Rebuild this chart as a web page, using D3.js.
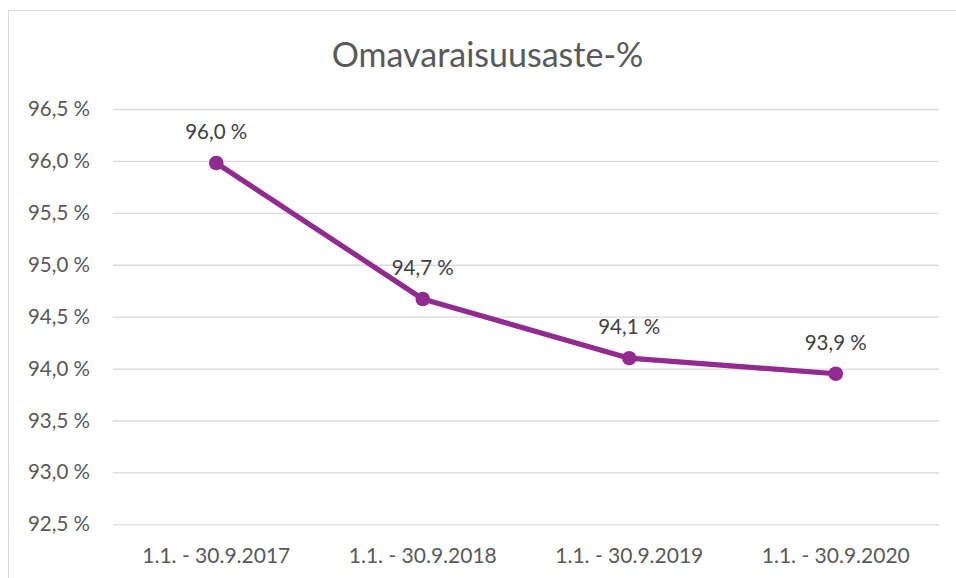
<!DOCTYPE html>
<html><head><meta charset="utf-8">
<script src="https://cdn.jsdelivr.net/npm/d3@7"></script>
<style>html,body{margin:0;padding:0;background:#fff;}</style>
</head><body>
<svg id="c" width="956" height="578"></svg>
<script>
const title = "Omavaraisuusaste-%";
const categories = ["1.1. - 30.9.2017", "1.1. - 30.9.2018", "1.1. - 30.9.2019", "1.1. - 30.9.2020"];
const values = [95.98, 94.67, 94.10, 93.95];
const valueLabels = ["96,0 %", "94,7 %", "94,1 %", "93,9 %"];
const yTicks = [92.5, 93.0, 93.5, 94.0, 94.5, 95.0, 95.5, 96.0, 96.5];

const svg = d3.select("#c");
const font = "Lato, 'Open Sans', sans-serif";
const textColor = "#595959";
const lineColor = "#922B8F";

// chart frame
svg.append("rect").attr("x", 8.5).attr("y", 10.5).attr("width", 1000).attr("height", 600)
  .attr("fill", "#fff").attr("stroke", "#d9d9d9").attr("stroke-width", 1);

const plot = {left: 113, right: 939, top: 109, bottom: 524.3};

const x = d3.scaleBand().domain(categories).range([plot.left, plot.right]);
const y = d3.scaleLinear().domain([92.5, 96.5]).range([plot.bottom, plot.top]);

svg.append("text").attr("x", 487.5).attr("y", 67).attr("text-anchor", "middle")
  .attr("font-family", font).attr("font-size", 34).attr("fill", textColor).text(title);

// gridlines
const yAxis = d3.axisLeft(y).tickValues(yTicks).tickSize(-(plot.right - plot.left)).tickPadding(23)
  .tickFormat(d => d3.format(".1f")(d).replace(".", ",") + " %");
const gy = svg.append("g").attr("transform", `translate(${plot.left},0)`).call(yAxis);
gy.select(".domain").remove();
gy.selectAll(".tick line").attr("stroke", "#d9d9d9").attr("stroke-width", 1.3);
gy.selectAll(".tick text").attr("font-family", font).attr("font-size", 20.5).attr("fill", textColor);

const xAxis = d3.axisBottom(x).tickSize(0).tickPadding(24);
const gx = svg.append("g").attr("transform", `translate(0,${plot.bottom})`).call(xAxis);
gx.select(".domain").remove();
gx.selectAll(".tick text").attr("font-family", font).attr("font-size", 21).attr("fill", textColor);

const cx = d => x(d) + x.bandwidth() / 2;
const line = d3.line().x((d, i) => cx(categories[i])).y(d => y(d));
svg.append("path").datum(values).attr("d", line).attr("fill", "none")
  .attr("stroke", lineColor).attr("stroke-width", 5.2).attr("stroke-linejoin", "round");

svg.selectAll("circle.pt").data(values).join("circle").attr("class", "pt")
  .attr("cx", (d, i) => cx(categories[i])).attr("cy", d => y(d)).attr("r", 7.3).attr("fill", lineColor);

svg.selectAll("text.lbl").data(values).join("text").attr("class", "lbl")
  .attr("x", (d, i) => cx(categories[i])).attr("y", d => y(d) - 24)
  .attr("text-anchor", "middle").attr("font-family", font).attr("font-size", 20.5)
  .attr("fill", "#404040").text((d, i) => valueLabels[i]);
</script>
</body></html>
